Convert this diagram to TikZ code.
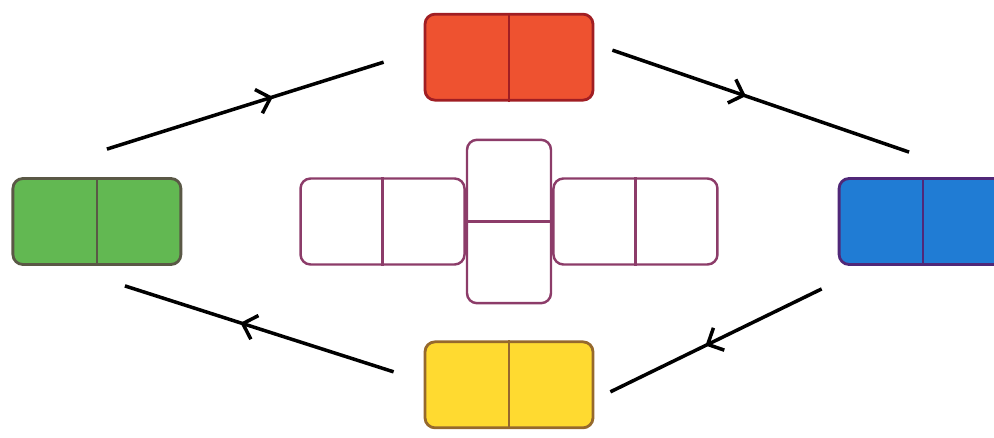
\documentclass[tikz,border=0pt]{standalone}
\usetikzlibrary{positioning, calc, arrows.meta, decorations.markings}

\definecolor{domred}{RGB}{238,82,48}
\definecolor{domredline}{RGB}{160,30,35}
\definecolor{domgreen}{RGB}{98,184,82}
\definecolor{domgreenline}{RGB}{90,88,70}
\definecolor{domblue}{RGB}{32,124,212}
\definecolor{dombluelint}{RGB}{80,40,120}
\definecolor{domyellow}{RGB}{255,218,48}
\definecolor{domyellowline}{RGB}{150,105,45}
\definecolor{netline}{RGB}{140,60,105}

\begin{document}
\begin{tikzpicture}
  \newcommand\cellw{1.68}
  \newcommand\cellh{1.72}
  \newcommand\netgapup{0.74}
  \newcommand\netgapdown{0.72}
  \newcommand\netgapl{2.34}
  \newcommand\netgapr{2.38}
  \newcommand\arrowpos{0.55}

  \tikzset{domino/.style={draw, line width=1.6pt, rounded corners=0.2cm, minimum width=2*\cellw cm, minimum height=\cellh cm, inner sep=0pt}}
  \tikzset{netpiece/.style={domino, draw=netline, fill=white, line width=1.4pt}}
  \tikzset{netrow/.style={netpiece, minimum width=3.28cm}}
  \tikzset{netcol/.style={netpiece, minimum width=\cellw cm, minimum height=1.9*\cellh cm}}
  \tikzset{cyclearrow/.style={line width=2pt, postaction={decorate}, decoration={markings,
    mark=at position #1 with {\arrow{Straight Barb[angle=90:10pt, line width=2pt]}}}}}
  \tikzset{cyclearrow/.default=\arrowpos}

  \useasboundingbox (0, 0) rectangle (19.88, 8.74);

  % cube net
  \node[netcol] at (10.18, 4.31) (net-mid) {};
  \draw[netline, line width=1.4pt] (net-mid.west) -- (net-mid.east);
  \node[netrow, left=0pt of net-mid] (net-left) {};
  \node[netrow, right=0pt of net-mid] (net-right) {};
  \foreach \piece in {left, right}{
    \draw[netline, line width=1.4pt] (net-\piece.north) -- (net-\piece.south);
  }

  % dominoes
  \node[domino, fill=domred, draw=domredline, above=\netgapup of net-mid] (dom-top) {};
  \node[domino, fill=domyellow, draw=domyellowline, below=\netgapdown of net-mid] (dom-bottom) {};
  \node[domino, fill=domgreen, draw=domgreenline, left=\netgapl of net-left] (dom-left) {};
  \node[domino, fill=domblue, draw=dombluelint, right=\netgapr of net-right] (dom-right) {};
  \foreach \dom/\col in {top/domredline, bottom/domyellowline, left/domgreenline, right/dombluelint}{
    \draw[\col, line width=1.4pt] (dom-\dom.north) -- (dom-\dom.south);
  }

  % cycle
  \coordinate (tl-a) at ($(dom-left.north)+(0.2, 0.56)$);
  \coordinate (tl-b) at ($(dom-top.west)+(-0.8, -0.1)$);
  \coordinate (tr-a) at ($(dom-top.east)+(0.36, 0.14)$);
  \coordinate (tr-b) at ($(dom-right.north)+(-0.28, 0.5)$);
  \coordinate (br-a) at ($(dom-right.south west)+(-0.32, -0.46)$);
  \coordinate (br-b) at ($(dom-bottom.east)+(0.32, -0.14)$);
  \coordinate (bl-a) at ($(dom-bottom.west)+(-0.6, 0.26)$);
  \coordinate (bl-b) at ($(dom-left.south)+(0.56, -0.4)$);

  \draw[cyclearrow=0.6] (tl-a) -- (tl-b);
  \draw[cyclearrow=0.45] (tr-a) -- (tr-b);
  \draw[cyclearrow] (br-a) -- (br-b);
  \draw[cyclearrow=0.57] (bl-a) -- (bl-b);
\end{tikzpicture}
\end{document}
